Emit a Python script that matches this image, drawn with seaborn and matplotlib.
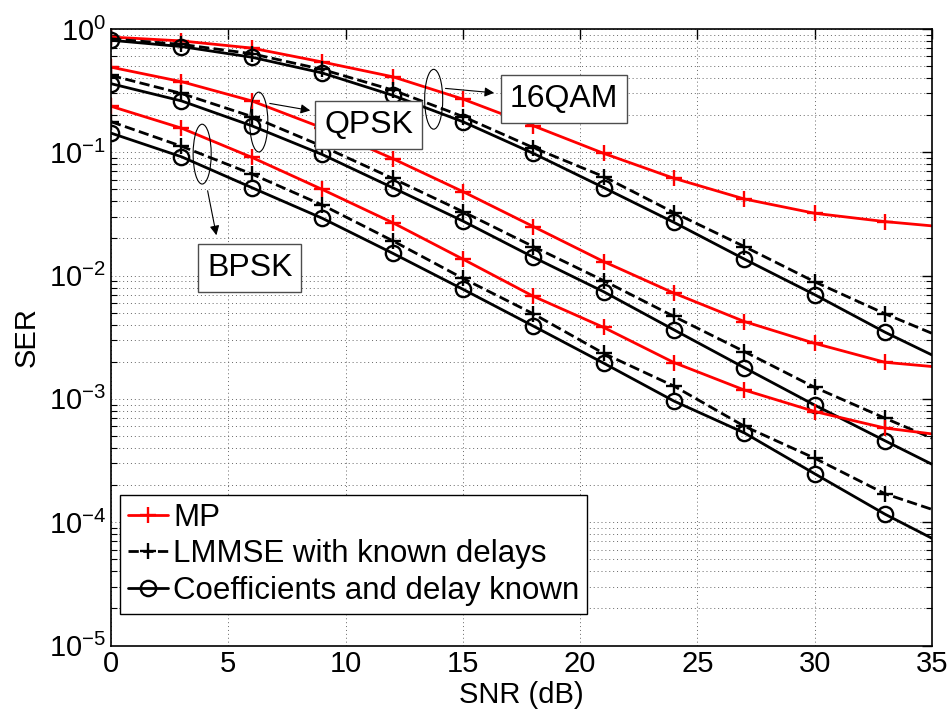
import numpy as np
import pandas as pd
import seaborn as sns
import matplotlib.pyplot as plt
from matplotlib.patches import Ellipse
from matplotlib.ticker import LogLocator, NullFormatter, FixedLocator

# SNR points (markers every 3 dB, curve ends at 35 dB)
snr = [0, 3, 6, 9, 12, 15, 18, 21, 24, 27, 30, 33, 35]

# 16QAM
mp_16qam = [0.86, 0.80, 0.70, 0.54, 0.41, 0.27, 0.164, 0.098, 0.0615, 0.0418, 0.032, 0.0274, 0.0253]
lmmse_16qam = [0.83, 0.75, 0.63, 0.47, 0.32, 0.195, 0.109, 0.0635, 0.0324, 0.0172, 0.0089, 0.0049, 0.0034]
known_16qam = [0.81, 0.72, 0.59, 0.44, 0.29, 0.177, 0.098, 0.0517, 0.027, 0.0136, 0.0070, 0.00347, 0.00227]

# QPSK
mp_qpsk = [0.49, 0.374, 0.261, 0.158, 0.089, 0.048, 0.025, 0.013, 0.0072, 0.00424, 0.00282, 0.00198, 0.00183]
lmmse_qpsk = [0.42, 0.30, 0.195, 0.112, 0.0615, 0.033, 0.0172, 0.0091, 0.00466, 0.00242, 0.00124, 0.000697, 0.00048]
known_qpsk = [0.36, 0.261, 0.164, 0.096, 0.0517, 0.0277, 0.0141, 0.0074, 0.00363, 0.00179, 0.00089, 0.000457, 0.000295]

# BPSK
mp_bpsk = [0.236, 0.157, 0.091, 0.050, 0.0269, 0.0136, 0.0068, 0.0038, 0.00197, 0.00118, 0.00079, 0.00058, 0.00052]
lmmse_bpsk = [0.177, 0.112, 0.0667, 0.0374, 0.0192, 0.0095, 0.0049, 0.00234, 0.00127, 0.00060, 0.00033, 0.00017, 0.000127]
known_bpsk = [0.143, 0.092, 0.0517, 0.0292, 0.0152, 0.00775, 0.0039, 0.00195, 0.00096, 0.00053, 0.000247, 0.000116, 0.000074]

legend_labels = ['MP', 'LMMSE with known delays', 'Coefficients and delay known']

sns.set_style('white')
plt.rcParams['font.family'] = ['Liberation Sans', 'DejaVu Sans']
plt.rcParams['mathtext.default'] = 'regular'
plt.rcParams['xtick.direction'] = 'in'
plt.rcParams['ytick.direction'] = 'in'
plt.rcParams['text.color'] = 'black'
plt.rcParams['axes.labelcolor'] = 'black'
plt.rcParams['xtick.color'] = 'black'
plt.rcParams['ytick.color'] = 'black'

fig = plt.figure(figsize=(9.53, 7.17), dpi=100)
ax = fig.add_axes([0.1165, 0.0997, 0.8615, 0.8599])

styles = [
    dict(color='red', linestyle='-', marker='+', markerfacecolor='red', markeredgecolor='red'),
    dict(color='black', linestyle='--', marker='+', markerfacecolor='black', markeredgecolor='black'),
    dict(color='black', linestyle='-', marker='o', markerfacecolor='none', markeredgecolor='black'),
]

groups = [
    (mp_16qam, lmmse_16qam, known_16qam),
    (mp_qpsk, lmmse_qpsk, known_qpsk),
    (mp_bpsk, lmmse_bpsk, known_bpsk),
]

handles = []
for gi, grp in enumerate(groups):
    for si, vals in enumerate(grp):
        df = pd.DataFrame({'snr': snr, 'ser': vals})
        st = styles[si]
        sns.lineplot(data=df, x='snr', y='ser', ax=ax, estimator=None, sort=False,
                     linewidth=2, markersize=11, markeredgewidth=1.7,
                     markevery=slice(0, 12), **st)
        if gi == 0:
            handles.append(ax.lines[-1])

ax.set_yscale('log')
ax.set_xlim(0, 35)
ax.set_ylim(1e-5, 1)
ax.set_xticks(range(0, 36, 5))
ax.yaxis.set_major_locator(FixedLocator([1e-5, 1e-4, 1e-3, 1e-2, 1e-1, 1]))
ax.set_yticklabels([r'$10^{-5}$', r'$10^{-4}$', r'$10^{-3}$', r'$10^{-2}$', r'$10^{-1}$', r'$10^{0}$'])
ax.yaxis.set_minor_locator(LogLocator(base=10, subs=np.arange(2, 10), numticks=20))
ax.yaxis.set_minor_formatter(NullFormatter())
ax.tick_params(axis='both', which='major', labelsize=21, length=7, width=1,
               top=True, right=True, colors='black')
ax.tick_params(axis='y', which='minor', length=4, width=0.8, left=True, right=True)

ax.grid(True, which='major', axis='both', color='0.4', linestyle=(0, (1, 3)), linewidth=0.7)
ax.grid(True, which='minor', axis='y', color='0.4', linestyle=(0, (1, 3)), linewidth=0.7)
for sp in ax.spines.values():
    sp.set_linewidth(1.2)
    sp.set_color('black')

ax.set_xlabel('SNR (dB)', fontsize=21, labelpad=2)
ax.set_ylabel('SER', fontsize=21, labelpad=6)

leg = ax.legend(handles, legend_labels, loc='lower left', bbox_to_anchor=(0.011, 0.051),
                borderaxespad=0, fontsize=22.5, frameon=True, fancybox=False,
                handlelength=1.3, handletextpad=0.15, borderpad=0.25, labelspacing=0.22)
leg.get_frame().set_edgecolor('black')
leg.get_frame().set_linewidth(1.0)
leg.get_frame().set_alpha(1)

# ellipses, arrows and modulation labels (axes fractions)
ellipses = [(0.393, 0.886), (0.180, 0.849), (0.111, 0.797)]
for cx, cy in ellipses:
    ax.add_patch(Ellipse((cx, cy), 0.022, 0.097, transform=ax.transAxes,
                         fill=False, edgecolor='black', linewidth=0.8, zorder=5))

notes = [
    ('16QAM', (0.404, 0.904), (0.470, 0.896), (0.552, 0.886)),
    ('QPSK', (0.190, 0.880), (0.246, 0.867), (0.314, 0.844)),
    ('BPSK', (0.117, 0.742), (0.129, 0.661), (0.169, 0.612)),
]
for txt, start, end, pos in notes:
    ax.annotate('', xy=end, xytext=start, xycoords='axes fraction',
                arrowprops=dict(arrowstyle='-|>', color='black', lw=0.8, mutation_scale=14),
                zorder=6)
    ax.text(pos[0], pos[1], txt, transform=ax.transAxes, fontsize=23,
            ha='center', va='center', zorder=7,
            bbox=dict(boxstyle='square,pad=0.28', facecolor='white', edgecolor='0.3', linewidth=1))

fig.savefig('out.png', dpi=100)
